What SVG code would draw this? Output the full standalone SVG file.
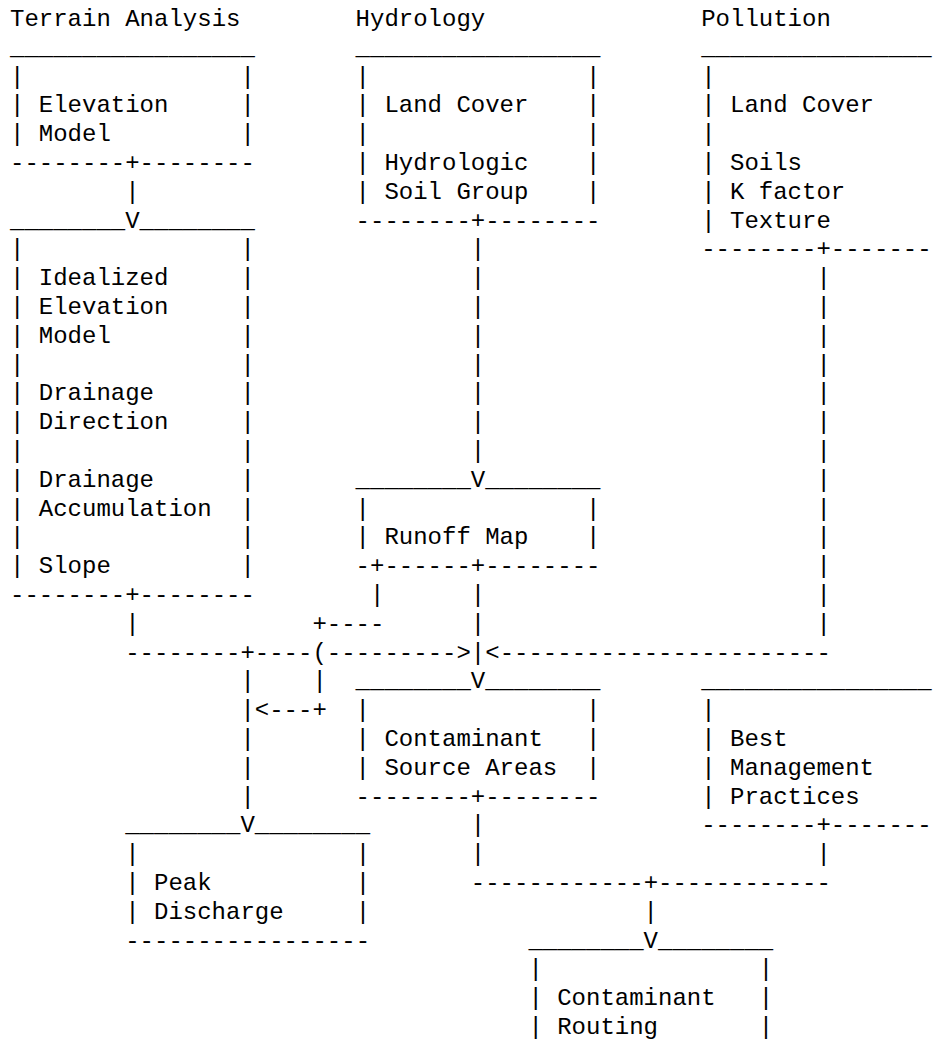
<svg xmlns="http://www.w3.org/2000/svg" width="936" height="1055" viewBox="0 0 936 1055">
<style>
text { font-family: "Liberation Mono", "Courier New", monospace; font-size: 24px; fill: #000; white-space: pre; }
</style>
<rect x="0" y="0" width="936" height="1055" fill="#fff"/>
<g id="titles">
<text x="10" y="26">Terrain Analysis</text>
<text x="355.6" y="26">Hydrology</text>
<text x="701.2" y="26">Pollution</text>
</g>
<g id="elevation-model">
<text xml:space="preserve"><tspan x="10" y="54.8">_________________</tspan><tspan x="10" y="83.6">|               |</tspan><tspan x="10" y="112.4">| Elevation     |</tspan><tspan x="10" y="141.2">| Model         |</tspan><tspan x="10" y="170">--------+--------</tspan></text>
</g>
<g id="idealized-elevation">
<text xml:space="preserve"><tspan x="10" y="227.6">________V________</tspan><tspan x="10" y="256.4">|               |</tspan><tspan x="10" y="285.2">| Idealized     |</tspan><tspan x="10" y="314">| Elevation     |</tspan><tspan x="10" y="342.8">| Model         |</tspan><tspan x="10" y="371.6">|               |</tspan><tspan x="10" y="400.4">| Drainage      |</tspan><tspan x="10" y="429.2">| Direction     |</tspan><tspan x="10" y="458">|               |</tspan><tspan x="10" y="486.8">| Drainage      |</tspan><tspan x="10" y="515.6">| Accumulation  |</tspan><tspan x="10" y="544.4">|               |</tspan><tspan x="10" y="573.2">| Slope         |</tspan><tspan x="10" y="602">--------+--------</tspan></text>
</g>
<g id="hydrology-inputs">
<text xml:space="preserve"><tspan x="355.6" y="54.8">_________________</tspan><tspan x="355.6" y="83.6">|               |</tspan><tspan x="355.6" y="112.4">| Land Cover    |</tspan><tspan x="355.6" y="141.2">|               |</tspan><tspan x="355.6" y="170">| Hydrologic    |</tspan><tspan x="355.6" y="198.8">| Soil Group    |</tspan><tspan x="355.6" y="227.6">--------+--------</tspan></text>
</g>
<g id="runoff-map">
<text xml:space="preserve"><tspan x="355.6" y="486.8">________V________</tspan><tspan x="355.6" y="515.6">|               |</tspan><tspan x="355.6" y="544.4">| Runoff Map    |</tspan><tspan x="355.6" y="573.2">-+------+--------</tspan></text>
</g>
<g id="pollution-inputs">
<text xml:space="preserve"><tspan x="701.2" y="54.8">________________</tspan><tspan x="701.2" y="83.6">|</tspan><tspan x="701.2" y="112.4">| Land Cover</tspan><tspan x="701.2" y="141.2">|</tspan><tspan x="701.2" y="170">| Soils</tspan><tspan x="701.2" y="198.8">| K factor</tspan><tspan x="701.2" y="227.6">| Texture</tspan><tspan x="701.2" y="256.4">--------+-------</tspan></text>
</g>
<g id="contaminant-source-areas">
<text xml:space="preserve"><tspan x="355.6" y="688.4">________V________</tspan><tspan x="355.6" y="717.2">|               |</tspan><tspan x="355.6" y="746">| Contaminant   |</tspan><tspan x="355.6" y="774.8">| Source Areas  |</tspan><tspan x="355.6" y="803.6">--------+--------</tspan></text>
</g>
<g id="best-management-practices">
<text xml:space="preserve"><tspan x="701.2" y="688.4">________________</tspan><tspan x="701.2" y="717.2">|</tspan><tspan x="701.2" y="746">| Best</tspan><tspan x="701.2" y="774.8">| Management</tspan><tspan x="701.2" y="803.6">| Practices</tspan><tspan x="701.2" y="832.4">--------+-------</tspan></text>
</g>
<g id="peak-discharge">
<text xml:space="preserve"><tspan x="125.2" y="832.4">________V________</tspan><tspan x="125.2" y="861.2">|               |</tspan><tspan x="125.2" y="890">| Peak          |</tspan><tspan x="125.2" y="918.8">| Discharge     |</tspan><tspan x="125.2" y="947.6">-----------------</tspan></text>
</g>
<g id="contaminant-routing">
<text xml:space="preserve"><tspan x="528.4" y="947.6">________V________</tspan><tspan x="528.4" y="976.4">|               |</tspan><tspan x="528.4" y="1005.2">| Contaminant   |</tspan><tspan x="528.4" y="1034">| Routing       |</tspan></text>
</g>
<g id="connectors">
<text x="125.2" y="198.8">|</text>
<text x="470.8" y="256.4">|</text>
<text x="470.8" y="285.2">|</text>
<text x="470.8" y="314">|</text>
<text x="470.8" y="342.8">|</text>
<text x="470.8" y="371.6">|</text>
<text x="470.8" y="400.4">|</text>
<text x="470.8" y="429.2">|</text>
<text x="470.8" y="458">|</text>
<text x="816.4" y="285.2">|</text>
<text x="816.4" y="314">|</text>
<text x="816.4" y="342.8">|</text>
<text x="816.4" y="371.6">|</text>
<text x="816.4" y="400.4">|</text>
<text x="816.4" y="429.2">|</text>
<text x="816.4" y="458">|</text>
<text x="816.4" y="486.8">|</text>
<text x="816.4" y="515.6">|</text>
<text x="816.4" y="544.4">|</text>
<text x="816.4" y="573.2">|</text>
<text x="816.4" y="602">|</text>
<text x="816.4" y="630.8">|</text>
<text x="370" y="602">|</text>
<text x="470.8" y="602">|</text>
<text x="125.2" y="630.8">|</text>
<text x="312.4" y="630.8">+----</text>
<text x="470.8" y="630.8">|</text>
<text x="125.2" y="659.6">--------+----(---------&gt;|&lt;-----------------------</text>
<text x="240.4" y="688.4">|</text>
<text x="312.4" y="688.4">|</text>
<text x="240.4" y="717.2">|&lt;---+</text>
<text x="240.4" y="746">|</text>
<text x="240.4" y="774.8">|</text>
<text x="240.4" y="803.6">|</text>
<text x="470.8" y="832.4">|</text>
<text x="470.8" y="861.2">|</text>
<text x="816.4" y="861.2">|</text>
<text x="470.8" y="890">------------+------------</text>
<text x="643.6" y="918.8">|</text>
</g>
</svg>
